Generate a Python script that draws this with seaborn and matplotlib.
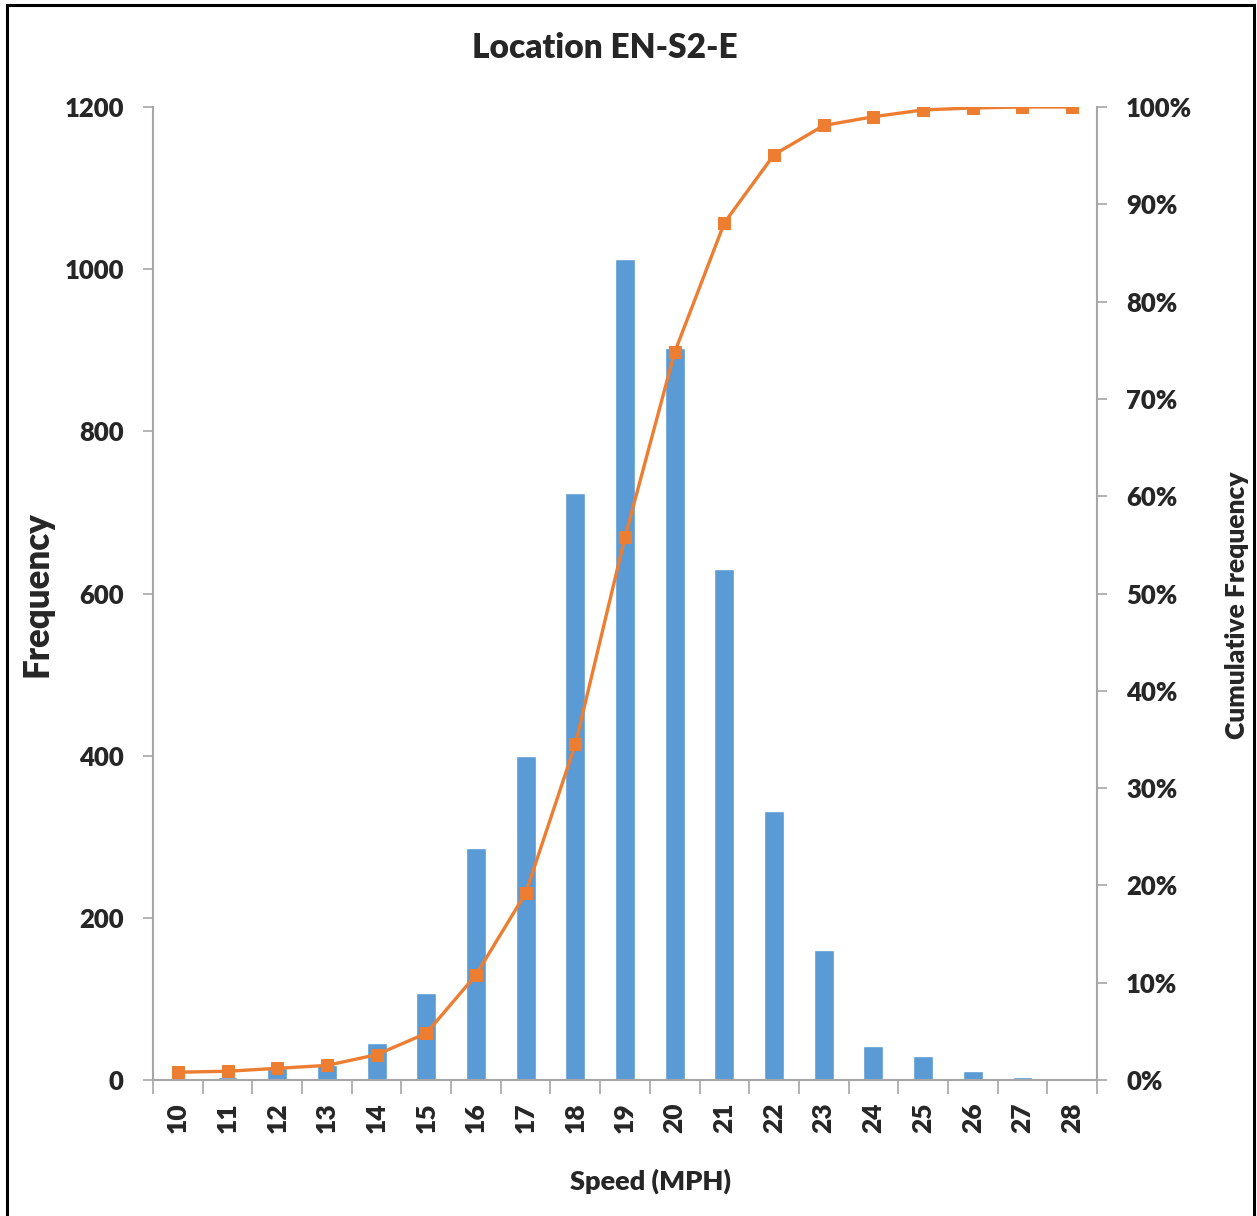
import pandas as pd
import numpy as np
import matplotlib
matplotlib.use("Agg")
import matplotlib.pyplot as plt
import seaborn as sns
from matplotlib.patches import Rectangle
from matplotlib.ticker import FixedLocator, PercentFormatter

# values
speeds = [10, 11, 12, 13, 14, 15, 16, 17, 18, 19, 20, 21, 22, 23, 24, 25, 26, 27, 28]
frequency = [2, 4, 15, 18, 46, 107, 286, 400, 724, 1012, 903, 630, 332, 160, 42, 30, 11, 4, 0]
cumulative = [0.8, 0.9, 1.2, 1.5, 2.6, 4.8, 10.8, 19.2, 34.5, 55.8, 74.8, 88.1, 95.1,
              98.1, 99.0, 99.7, 99.9, 100.0, 100.0]

bar_color = "#5B9BD5"
line_color = "#ED7D31"
axis_gray = "#A6A6A6"

df = pd.DataFrame({"speed": [str(s) for s in speeds], "freq": frequency, "cum": cumulative})
df["pos"] = range(len(df))

sns.set_style("white")
plt.rcParams['font.family'] = ['Lato', 'DejaVu Sans']
plt.rcParams['font.weight'] = 'heavy'

fig = plt.figure(figsize=(12.57, 12.16), dpi=100)
ax = fig.add_axes([153 / 1257, 1 - 1080 / 1216, (1097 - 153) / 1257, (1080 - 107) / 1216])

sns.barplot(data=df, x="speed", y="freq", color=bar_color, width=0.4,
            saturation=1, order=df["speed"], ax=ax)
ax.set_xlim(-0.5, len(df) - 0.5)
ax.set_ylim(0, 1200)
ax.set_yticks(range(0, 1201, 200))

ax2 = ax.twinx()
sns.lineplot(data=df, x="pos", y="cum", color=line_color, lw=2.4,
             marker="s", markersize=8, markeredgecolor=line_color, ax=ax2)
ax2.set_ylim(0, 100)
ax2.set_yticks(range(0, 101, 10))
ax2.yaxis.set_major_formatter(PercentFormatter(decimals=0))
ax2.set_xlim(-0.5, len(df) - 0.5)

# spines
for a in (ax, ax2):
    a.spines['top'].set_visible(False)
    for s in ('left', 'right', 'bottom'):
        a.spines[s].set_color(axis_gray)
        a.spines[s].set_linewidth(1.5)
ax.spines['right'].set_visible(False)
ax2.spines['left'].set_visible(False)
ax2.spines['bottom'].set_visible(False)

# ticks
ax.tick_params(axis='y', direction='out', length=7, width=1.2, color=axis_gray,
               pad=14, labelsize=18.5, left=True)
ax2.tick_params(axis='y', direction='out', length=7, width=1.2, color=axis_gray,
                pad=14, labelsize=18.5, right=True)
ax.tick_params(axis='x', which='major', length=0, pad=16, labelsize=19, labelrotation=90)
ax.xaxis.set_minor_locator(FixedLocator(np.arange(-0.5, len(df), 1.0)))
ax.tick_params(axis='x', which='minor', direction='out', length=10, width=1.2,
               color=axis_gray, bottom=True)
for lbl in ax.get_xticklabels() + ax.get_yticklabels() + ax2.get_yticklabels():
    lbl.set_fontweight('heavy')

# labels
ax.set_xlabel("Speed (MPH)", fontsize=19.5, fontweight='heavy')
ax.xaxis.set_label_coords(0.5265, -0.1038)
ax.xaxis.label.set_va('center')
ax.set_ylabel("Frequency", fontsize=25, fontweight='heavy')
ax.yaxis.set_label_coords(-0.1229, 0.4995)
ax.yaxis.label.set_va('center')
ax2.set_ylabel("Cumulative Frequency", fontsize=19, fontweight='heavy')
ax2.yaxis.set_label_coords(1.148, 0.488)
ax2.yaxis.label.set_va('center')

fig.text(605 / 1257, 1 - 48 / 1216, "Location EN-S2-E", ha='center', va='center',
         fontsize=24, fontweight='heavy')

# outer frame
fig.add_artist(Rectangle((6.5 / 1257, -0.02), (1254 - 6.5) / 1257, 1.02 - 5 / 1216,
                         transform=fig.transFigure, fill=False, lw=2.2, ec='black'))

fig.savefig("out.png", dpi=100, facecolor='white')
